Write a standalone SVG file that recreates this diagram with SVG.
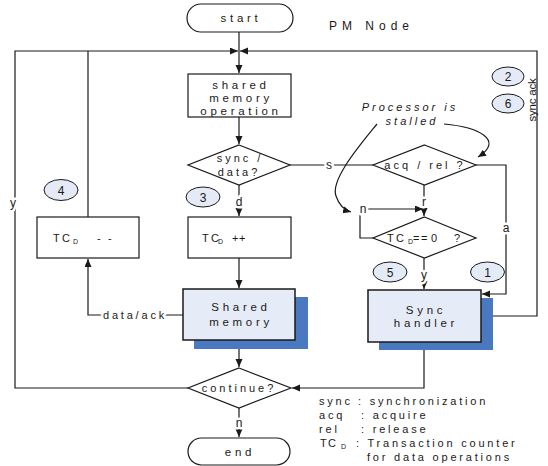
<svg xmlns="http://www.w3.org/2000/svg" width="548" height="466" viewBox="0 0 548 466">
<style>
.ln{fill:none;stroke:#1a1a1a;stroke-width:1.2}
.box{fill:#fff;stroke:#1a1a1a;stroke-width:1.2}
.pbox{fill:#e6ecf7;stroke:#1a1a1a;stroke-width:1.5}
.sh{fill:#4a79c2}
.circ{fill:#e4eaf6;stroke:#1a1a1a;stroke-width:1}
text{font-family:"Liberation Sans",Arial,sans-serif;fill:#1a1a1a}
.t{font-size:11.5px;letter-spacing:3.7px;text-anchor:middle}
.dt{font-size:11px;letter-spacing:3px;text-anchor:middle}
.lg{font-size:11px;letter-spacing:2.8px}
.lbl{font-size:12px;text-anchor:middle;paint-order:stroke;stroke:#fff;stroke-width:5px;stroke-linejoin:round}
.num{font-size:12px;text-anchor:middle}
.sub{font-size:7px}
</style>
<defs>
<marker id="ah" markerUnits="userSpaceOnUse" markerWidth="9" markerHeight="8" refX="8" refY="3.5" orient="auto">
<path d="M0,0 L8,3.5 L0,7 z" fill="#1a1a1a"/>
</marker>
</defs>

<g id="connectors">
<path class="ln" d="M239,32 V73" marker-end="url(#ah)"/>
<path class="ln" d="M188,388 H15 V51 H238" marker-end="url(#ah)"/>
<path class="ln" d="M88,217 V51"/>
<path class="ln" d="M493,316 H537 V51 H240" marker-end="url(#ah)"/>
<path class="ln" d="M239,117 V144" marker-end="url(#ah)"/>
<path class="ln" d="M290,165 H373"/>
<path class="ln" d="M476,165 H506 V294 H482" marker-end="url(#ah)"/>
<path class="ln" d="M424,185 V216" marker-end="url(#ah)"/>
<path class="ln" d="M373,238 H360 V209 H423" marker-end="url(#ah)"/>
<path class="ln" d="M424,258 V289" marker-end="url(#ah)"/>
<path class="ln" d="M239,185 V216" marker-end="url(#ah)"/>
<path class="ln" d="M239,258 V288" marker-end="url(#ah)"/>
<path class="ln" d="M183,315 H88 V259" marker-end="url(#ah)"/>
<path class="ln" d="M239,340 V367" marker-end="url(#ah)"/>
<path class="ln" d="M424,342 V388 H292" marker-end="url(#ah)"/>
<path class="ln" d="M239,408 V437" marker-end="url(#ah)"/>
<path class="ln" d="M377,124 C360,145 330,180 336,196 C339,205 344,210 351,212" marker-end="url(#ah)"/>
<path class="ln" d="M444,124 C478,127 505,140 478,157" marker-end="url(#ah)"/>
<text class="lbl" x="329" y="169">s</text>
<text class="lbl" x="506" y="232">a</text>
<text class="lbl" x="424" y="206">r</text>
<text class="lbl" x="363" y="213">n</text>
<text class="lbl" x="424" y="279">y</text>
<text class="lbl" x="239" y="206">d</text>
<text class="lbl" x="13" y="207">y</text>
<text class="lbl" x="239" y="427">n</text>
<text class="lbl" x="135" y="319" style="font-size:11px;letter-spacing:2.8px">data/ack</text>
<text x="536" y="100" transform="rotate(-90 536 100)" style="font-size:11.5px;text-anchor:middle;letter-spacing:-0.2px">sync ack</text>
</g>

<g id="start">
<rect class="box" x="187" y="4" width="106" height="28" rx="14"/>
<text class="t" x="241" y="22">start</text>
</g>

<g id="shared-memory-operation">
<rect class="box" x="188" y="74" width="103" height="43"/>
<text class="t" x="241" y="89">shared</text>
<text class="t" x="241" y="102">memory</text>
<text class="t" x="241" y="115">operation</text>
</g>

<g id="sync-data">
<polygon class="box" points="239,145 290,165 239,185 188,165"/>
<text class="dt" x="240" y="162">sync /</text>
<text class="dt" x="239" y="176">data?</text>
</g>

<g id="acq-rel">
<polygon class="box" points="424.5,145 476,165 424.5,185 373,165"/>
<text class="dt" x="425" y="169">acq / rel ?</text>
</g>

<g id="tc-zero">
<polygon class="box" points="424.5,217 476,238 424.5,258 373,238"/>
<text style="font-size:11px" y="242"><tspan x="387">T</tspan><tspan x="396">C</tspan><tspan x="408" class="sub" dy="2">D</tspan><tspan x="413" dy="-2">=</tspan><tspan x="421">=</tspan><tspan x="431">0</tspan><tspan x="454">?</tspan></text>
</g>

<g id="tc-inc">
<rect class="box" x="188" y="217" width="103" height="41"/>
<text style="font-size:11px" y="242"><tspan x="202">T</tspan><tspan x="211">C</tspan><tspan x="218" class="sub" dy="2">D</tspan><tspan x="232" dy="-2">+</tspan><tspan x="239">+</tspan></text>
</g>

<g id="tc-dec">
<rect class="box" x="37" y="217" width="102" height="41"/>
<text style="font-size:11px" y="242"><tspan x="53">T</tspan><tspan x="62">C</tspan><tspan x="73" class="sub" dy="2">D</tspan><tspan x="97" dy="-2">-</tspan><tspan x="108">-</tspan></text>
</g>

<g id="shared-memory">
<rect class="sh" x="194" y="297" width="114" height="52"/>
<rect class="pbox" x="183" y="289" width="112" height="51"/>
<text class="t" x="241" y="311">Shared</text>
<text class="t" x="241" y="326">memory</text>
</g>

<g id="sync-handler">
<rect class="sh" x="379" y="298" width="114" height="52"/>
<rect class="pbox" x="368" y="290" width="113" height="52"/>
<text class="t" x="426" y="314">Sync</text>
<text class="t" x="426" y="327">handler</text>
</g>

<g id="continue">
<polygon class="box" points="239,368 291,388 239,408 188,388"/>
<text class="dt" x="239" y="392">continue?</text>
</g>

<g id="end">
<rect class="box" x="188" y="438" width="102" height="27" rx="13.5"/>
<text class="t" x="240" y="456">end</text>
</g>

<g id="markers">
<ellipse class="circ" cx="508" cy="76.5" rx="16" ry="9.5"/>
<text class="num" x="508" y="81">2</text>
<ellipse class="circ" cx="508" cy="103.5" rx="16" ry="9.5"/>
<text class="num" x="508" y="108">6</text>
<ellipse class="circ" cx="61" cy="190" rx="17" ry="10.5"/>
<text class="num" x="61" y="194.5">4</text>
<ellipse class="circ" cx="203" cy="197" rx="17" ry="10"/>
<text class="num" x="203" y="201.5">3</text>
<ellipse class="circ" cx="390" cy="272" rx="17" ry="10"/>
<text class="num" x="390" y="276.5">5</text>
<ellipse class="circ" cx="487.5" cy="272" rx="17" ry="10"/>
<text class="num" x="487.5" y="276.5">1</text>
</g>

<g id="title">
<text x="329" y="30" style="font-size:12px;letter-spacing:5px">PM Node</text>
</g>

<g id="note">
<text x="410" y="111" style="font-size:11px;font-style:italic;letter-spacing:3px;text-anchor:middle">Processor is</text>
<text x="412" y="125" style="font-size:11px;font-style:italic;letter-spacing:3px;text-anchor:middle">stalled</text>
</g>

<g id="legend">
<text class="lg" x="319" y="405">sync</text>
<text class="lg" x="358" y="405">: synchronization</text>
<text class="lg" x="319" y="419">acq</text>
<text class="lg" x="361" y="419">: acquire</text>
<text class="lg" x="319" y="433">rel</text>
<text class="lg" x="361" y="433">: release</text>
<text style="font-size:11px" y="447"><tspan x="320">T</tspan><tspan x="328">C</tspan><tspan x="341" class="sub" dy="2">D</tspan></text>
<text class="lg" x="356" y="447">: Transaction counter</text>
<text class="lg" x="367" y="461">for data operations</text>
</g>
</svg>
